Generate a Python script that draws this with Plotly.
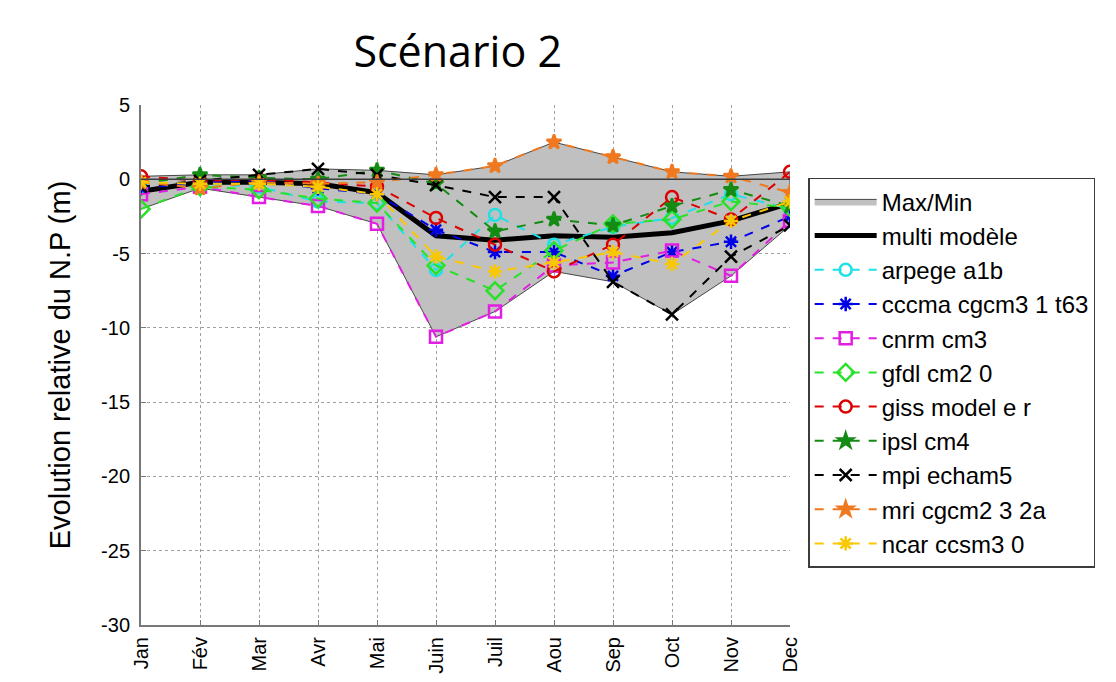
import numpy as np
import plotly.graph_objects as go

months = ["Jan", "Fév", "Mar", "Avr", "Mai", "Juin", "Juil", "Aou", "Sep", "Oct", "Nov", "Dec"]

multi_modele = [-0.8, -0.2, -0.2, -0.3, -0.9, -3.8, -4.1, -3.8, -3.9, -3.6, -2.8, -1.6]
arpege_a1b = [-0.5, -0.3, -0.5, -1.5, -1.6, -6.1, -2.4, -4.4, -3.2, -2.6, -1.0, -2.0]
cccma_cgcm3_1_t63 = [-0.6, -0.2, -0.1, -0.6, -1.0, -3.4, -4.9, -4.9, -6.5, -4.9, -4.2, -2.5]
cnrm_cm3 = [-1.0, -0.5, -1.2, -1.8, -3.0, -10.6, -8.9, -5.8, -5.6, -4.8, -6.5, -2.8]
gfdl_cm2_0 = [-2.0, -0.5, -0.7, -1.3, -1.6, -5.8, -7.5, -4.8, -3.0, -2.7, -1.5, -1.9]
giss_model_e_r = [0.2, -0.1, 0.0, -0.2, -0.5, -2.6, -4.4, -6.2, -4.4, -1.2, -2.7, 0.5]
ipsl_cm4 = [-0.3, 0.3, 0.1, 0.0, 0.6, -0.3, -3.5, -2.7, -3.1, -1.8, -0.7, -1.8]
mpi_echam5 = [-0.5, -0.1, 0.3, 0.7, 0.3, -0.4, -1.2, -1.2, -6.9, -9.1, -5.2, -3.1]
mri_cgcm2_3_2a = [-0.2, -0.6, -0.2, -0.3, -0.2, 0.3, 0.9, 2.5, 1.5, 0.5, 0.2, -0.9]
ncar_ccsm3_0 = [-0.2, -0.3, -0.3, -0.5, -1.0, -5.2, -6.2, -5.6, -4.9, -5.7, -2.8, -1.5]

y_ticks = [5, 0, -5, -10, -15, -20, -25, -30]
y_tick_labels = ["5", "0", "-5", "-10", "-15", "-20", "-25", "-30"]

model_names = ["arpege a1b", "cccma cgcm3 1 t63", "cnrm cm3", "gfdl cm2 0", "giss model e r",
               "ipsl cm4", "mpi echam5", "mri cgcm2 3 2a", "ncar ccsm3 0"]
model_values = [arpege_a1b, cccma_cgcm3_1_t63, cnrm_cm3, gfdl_cm2_0, giss_model_e_r,
                ipsl_cm4, mpi_echam5, mri_cgcm2_3_2a, ncar_ccsm3_0]

styles = [
    dict(color="rgb(30,225,230)", symbol="circle-open", size=12),
    dict(color="rgb(0,0,230)", symbol="asterisk-open", size=12),
    dict(color="rgb(225,30,225)", symbol="square-open", size=12),
    dict(color="rgb(40,225,40)", symbol="diamond-open", size=13),
    dict(color="rgb(220,0,0)", symbol="circle-open", size=12),
    dict(color="rgb(20,140,20)", symbol="star", size=11),
    dict(color="rgb(0,0,0)", symbol="x-thin-open", size=12),
    dict(color="rgb(240,120,30)", symbol="star", size=11),
    dict(color="rgb(250,200,0)", symbol="asterisk-open", size=12),
]

arr = np.array(model_values)
vmax = arr.max(axis=0)
vmin = arr.min(axis=0)

fig = go.Figure()

fig.add_trace(go.Scatter(
    x=months + months[::-1],
    y=list(vmax) + list(vmin[::-1]),
    fill="toself", fillcolor="rgb(192,192,192)",
    line=dict(color="rgb(70,70,70)", width=1),
    mode="lines", name="Max/Min", legendgroup="g0", legendrank=1,
))

fig.add_trace(go.Scatter(
    x=months, y=multi_modele, mode="lines",
    line=dict(color="black", width=5),
    name="multi modèle", legendgroup="g1", legendrank=2,
))

for i, (name, vals, st) in enumerate(zip(model_names, model_values, styles)):
    fig.add_trace(go.Scatter(
        x=months, y=vals, mode="lines+markers", name=name,
        legendgroup=f"m{i}", legendrank=3 + i,
        line=dict(color=st["color"], width=2, dash="dash"),
        marker=dict(symbol=st["symbol"], size=st["size"], color=st["color"],
                    line=dict(color=st["color"], width=2.5)),
    ))

fig.add_hline(y=0, line=dict(color="rgb(60,60,60)", width=1.5), layer="above")

axis_font = dict(family="Liberation Sans, Arial, sans-serif", size=20, color="black")

fig.update_layout(
    width=1116, height=682,
    margin=dict(l=133, r=334, t=97, b=65, autoexpand=False),
    paper_bgcolor="white", plot_bgcolor="white",
    title=dict(text="Scénario 2", x=0.403, xanchor="center", y=0.936, yanchor="middle",
               yref="container",
               font=dict(family="Open Sans, Noto Sans, sans-serif", size=43, color="black")),
    showlegend=True,
    legend=dict(x=1.028, xanchor="left", y=0.86, yanchor="top",
                bgcolor="white", bordercolor="rgb(60,60,60)", borderwidth=1.5,
                font=dict(family="Liberation Sans, Arial, sans-serif", size=24, color="black"),
                tracegroupgap=0, traceorder="normal", itemwidth=62),
    xaxis=dict(
        type="category", categoryorder="array", categoryarray=months,
        range=[0, 11], tickangle=-90, tickfont=axis_font,
        showgrid=True, gridcolor="rgb(160,160,160)", griddash="dot", gridwidth=1,
        showline=True, linecolor="rgb(120,120,120)", linewidth=2,
        ticks="inside", ticklen=5, tickcolor="rgb(120,120,120)",
        automargin=False, zeroline=False, ticklabelstandoff=2,
    ),
    yaxis=dict(
        range=[-30, 5], tickvals=y_ticks, ticktext=y_tick_labels, tickfont=axis_font,
        showgrid=True, gridcolor="rgb(160,160,160)", griddash="dot", gridwidth=1,
        showline=True, linecolor="rgb(120,120,120)", linewidth=2,
        ticks="inside", ticklen=5, tickcolor="rgb(120,120,120)",
        zeroline=False, automargin=False, ticklabelstandoff=5,
        title=dict(text="Evolution relative du N.P (m)", standoff=22,
                   font=dict(family="Liberation Sans, Arial, sans-serif", size=29, color="black")),
    ),
)

fig.write_html("out.html")
